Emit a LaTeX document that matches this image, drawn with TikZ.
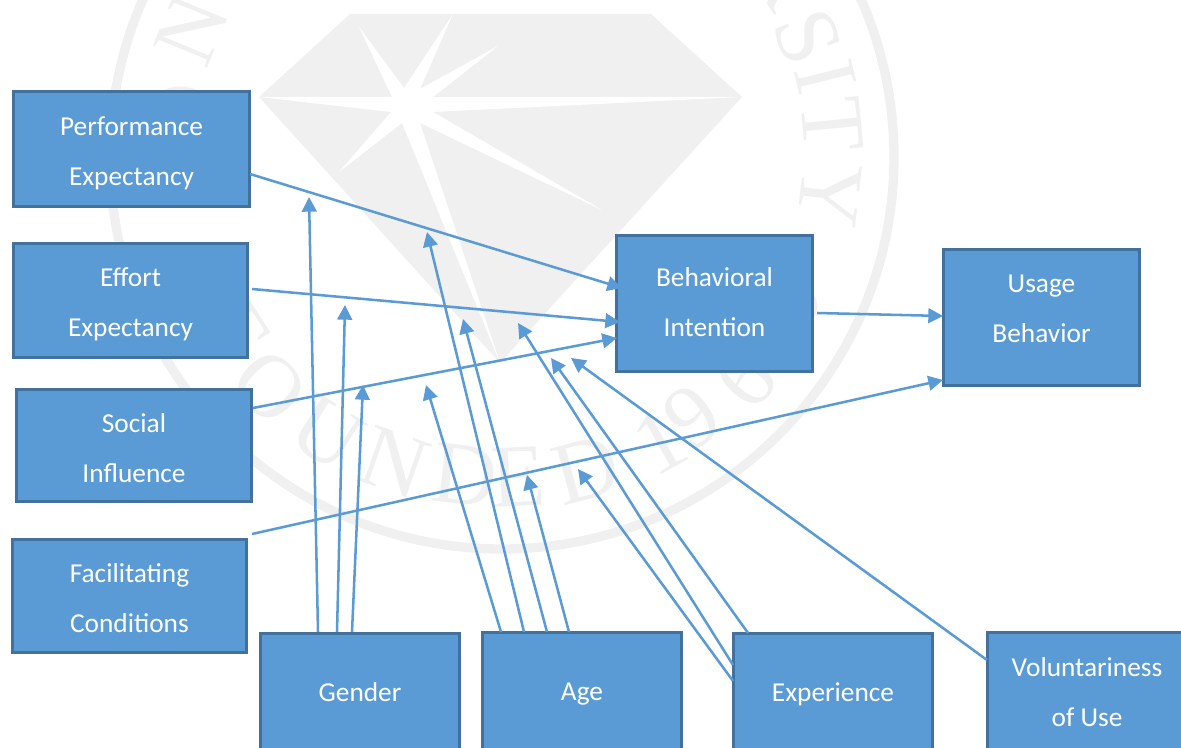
\documentclass[tikz,border=0pt]{standalone}
\usepackage{fontspec}
\setmainfont{Carlito}
\newfontfamily\wmfont{Liberation Serif}
\usetikzlibrary{arrows.meta}
\definecolor{wm}{HTML}{F0F0F0}
\definecolor{boxfill}{HTML}{5B9BD5}
\definecolor{boxline}{HTML}{41719C}
\tikzset{
  boxnode/.style 2 args={draw=boxline,fill=boxfill,line width=2.25pt,text=white,
    minimum width=#1*0.75pt-1pt,minimum height=#2*0.75pt-1pt,inner sep=0pt,align=center,
    font=\fontsize{20.5}{37.5}\selectfont},
  link/.style={draw=boxfill,line width=1.9pt,-{Triangle[length=11pt,width=11pt]}},
  wmletter/.style={text=wm,inner sep=0pt,font=\wmfont\fontsize{67}{67}\selectfont},
}
% vertical placement of a box's text: top strut and bottom strut
\newcommand{\tl}[1]{\rule{0pt}{\dimexpr 14pt+#1pt\relax}}
\newcommand{\bl}{\rule[-14pt]{0pt}{14pt}}
% outward-facing letter (upper arc)
\newcommand{\wmtop}[4]{%
  \pgfmathsetmacro{\wmrot}{atan2(157-#3,#2-502)-90}%
  \node[wmletter,rotate=\wmrot] (#1) at (#2,#3) {#4};}
% inward-facing letter (lower arc)
\newcommand{\wmbot}[4]{%
  \pgfmathsetmacro{\wmrot}{atan2(#3-157,502-#2)-90}%
  \node[wmletter,rotate=\wmrot] (#1) at (#2,#3) {#4};}
\begin{document}
\begin{tikzpicture}[x=0.75pt,y=-0.75pt]
\useasboundingbox (0,0) rectangle (1181,748);
\clip (0,0) rectangle (1181,748);
% watermark
\draw[wm,line width=7pt] (502,157) circle [radius=392*0.75pt];
\fill[wm] (350,14) -- (651,14) -- (742,97) -- (500,363) -- (259,97) -- cycle;
\fill[white] (259,97) -- (392,97) -- (359,27) -- (404,88) -- (453,14) -- (420,89)
  -- (498,46) -- (433,97) -- (742,97) -- (433,112) -- (602,210) -- (420,123)
  -- (500,363) -- (402,123) -- (339,172) -- (391,112) -- cycle;
\wmtop{wo}{183}{116}{O}
\wmtop{wn}{192}{30}{N}
\wmtop{wr}{783}{-25}{R}
\wmtop{ws}{808}{37}{S}
\wmtop{wi}{825}{77}{I}
\wmtop{wt}{832}{125}{T}
\wmtop{wy}{830}{195}{Y}
\wmbot{bf}{235}{330}{F}
\wmbot{bo}{270}{387}{O}
\wmbot{bu}{327}{433}{U}
\wmbot{bn}{395}{463}{N}
\wmbot{bd}{465}{475}{D}
\wmbot{be}{518}{477}{E}
\wmbot{bdd}{586}{470}{D}
\wmbot{bone}{660}{442}{1}
\wmbot{bnine}{692}{417}{9}
\wmbot{bsix}{745}{378}{6}
\wmbot{blast}{790}{300}{9}
% boxes
\node[boxnode={237}{116}] (pe) at (131.5,149) {\tl{17.5}Performance\\Expectancy\bl};
\node[boxnode={235}{115}] (ee) at (130.5,300.5) {\tl{17}Effort\\Expectancy\bl};
\node[boxnode={236}{113}] (si) at (134,445.5) {\tl{17.5}Social\\Influence\bl};
\node[boxnode={235}{114}] (fc) at (129.5,596) {\tl{17.5}Facilitating\\Conditions\bl};
\node[boxnode={197}{137}] (bi) at (714.5,303.5) {\tl{11.5}Behavioral\\Intention\bl};
\node[boxnode={197}{137}] (ub) at (1041.5,317.5) {\tl{0.5}Usage\\Behavior\bl};
\node[boxnode={200}{118}] (ge) at (360,692) {\tl{14.5}Gender\bl};
\node[boxnode={200}{120}] (ag) at (582,692) {\tl{13}Age\bl};
\node[boxnode={200}{118}] (ex) at (833,692) {\tl{14.5}Experience\bl};
\node[boxnode={200}{120}] (vo) at (1087,692) {\tl{14.5}Voluntariness\\of Use\bl};
% connector end points
\coordinate (pe1) at (250,174); \coordinate (bi1) at (622,288);
\coordinate (ee1) at (252,289); \coordinate (bi2) at (620,322);
\coordinate (si1) at (253,408); \coordinate (bi3) at (617,338);
\coordinate (fc1) at (252,534); \coordinate (ub1) at (943,380);
\coordinate (bi4) at (817,313); \coordinate (ub2) at (943,316);
\coordinate (g1) at (318,632); \coordinate (gt1) at (309,197);
\coordinate (g2) at (337,632); \coordinate (gt2) at (345,305);
\coordinate (g3) at (352,632); \coordinate (gt3) at (363,385);
\coordinate (a1) at (501,632); \coordinate (at1) at (426,385);
\coordinate (a2) at (524,632); \coordinate (at2) at (427,232);
\coordinate (a3) at (547,632); \coordinate (at3) at (463,319);
\coordinate (a4) at (569,632); \coordinate (at4) at (527,475);
\coordinate (e1) at (733,681); \coordinate (et1) at (578,469);
\coordinate (e2) at (733,665); \coordinate (et2) at (518,323);
\coordinate (e3) at (748,633); \coordinate (et3) at (551,358);
\coordinate (v1) at (987,660); \coordinate (vt1) at (571,358);
% connectors
\draw[link] (pe1) -- (bi1);
\draw[link] (ee1) -- (bi2);
\draw[link] (si1) -- (bi3);
\draw[link] (fc1) -- (ub1);
\draw[link] (bi4) -- (ub2);
\draw[link] (g1) -- (gt1);
\draw[link] (g2) -- (gt2);
\draw[link] (g3) -- (gt3);
\draw[link] (a1) -- (at1);
\draw[link] (a2) -- (at2);
\draw[link] (a3) -- (at3);
\draw[link] (a4) -- (at4);
\draw[link] (e1) -- (et1);
\draw[link] (e2) -- (et2);
\draw[link] (e3) -- (et3);
\draw[link] (v1) -- (vt1);
\end{tikzpicture}
\end{document}
